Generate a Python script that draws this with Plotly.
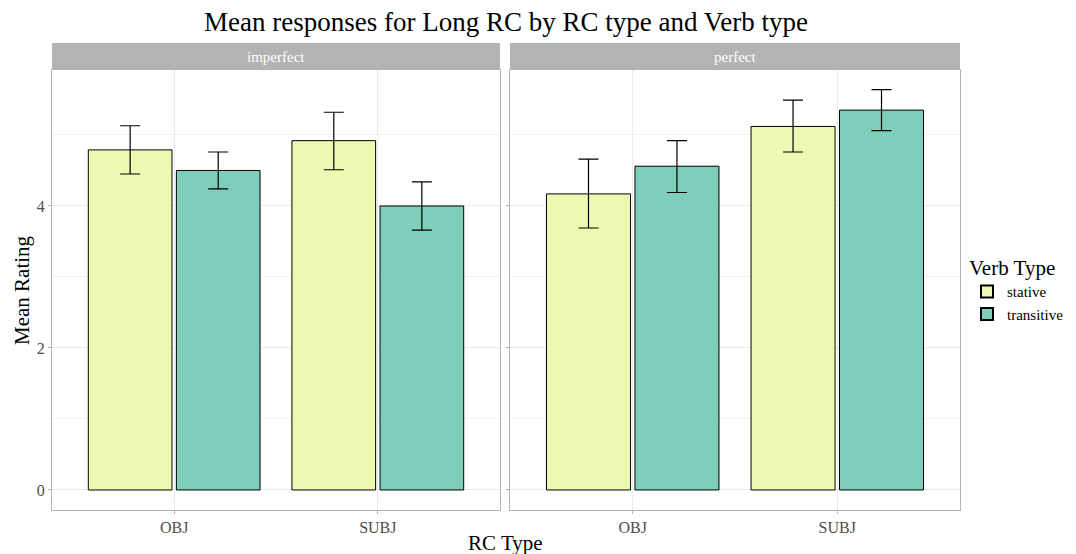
import plotly.graph_objects as go

rc_types = ["OBJ", "SUBJ"]
aspects = ["imperfect", "perfect"]
verb_types = ["stative", "transitive"]

# means[aspect][verb] over rc_types
means = {
    "imperfect": {"stative": [4.79, 4.92], "transitive": [4.50, 4.00]},
    "perfect": {"stative": [4.17, 5.12], "transitive": [4.56, 5.35]},
}
err_hi = {
    "imperfect": {"stative": [5.13, 5.32], "transitive": [4.76, 4.34]},
    "perfect": {"stative": [4.66, 5.49], "transitive": [4.92, 5.64]},
}
err_lo = {
    "imperfect": {"stative": [4.45, 4.51], "transitive": [4.24, 3.66]},
    "perfect": {"stative": [3.69, 4.76], "transitive": [4.19, 5.06]},
}
colors = {"stative": "#EDF8B1", "transitive": "#7FCDBB"}

W, H = 1076, 554
FONT = "Liberation Serif"

def px_x(p):
    return p / W

def px_y(p):
    return 1 - p / H

fig = go.Figure()
axes = [("x", "y"), ("x2", "y2")]
for ai, asp in enumerate(aspects):
    xa, ya = axes[ai]
    for vt in verb_types:
        m = means[asp][vt]
        hi = [h - v for h, v in zip(err_hi[asp][vt], m)]
        lo = [v - l for l, v in zip(err_lo[asp][vt], m)]
        fig.add_trace(go.Bar(
            x=rc_types, y=m, name=vt, legendgroup=vt,
            showlegend=(ai == 0),
            marker=dict(color=colors[vt], line=dict(color="black", width=1)),
            error_y=dict(type="data", array=hi, arrayminus=lo,
                         color="black", thickness=1.2, width=10),
            xaxis=xa, yaxis=ya,
        ))

grid = "#EBEBEB"
border = "#B3B3B3"
tickfont = dict(family=FONT, size=16, color="#4D4D4D")
yrange = [-0.282, 5.915]

common_x = dict(type="category", range=[-0.6, 1.6], showgrid=True, gridcolor=grid,
                gridwidth=1, showline=True, mirror=True, linecolor=border, linewidth=1,
                ticks="outside", ticklen=3, tickcolor=border, tickfont=tickfont,
                zeroline=False)
common_y = dict(range=yrange, tickvals=[0, 2, 4], showgrid=True, gridcolor=grid,
                gridwidth=1, showline=True, mirror=True, linecolor=border, linewidth=1,
                ticks="outside", ticklen=3, tickcolor=border, tickfont=tickfont,
                zeroline=False,
                minor=dict(tickvals=[1, 3, 5], showgrid=True, gridcolor="#F2F2F2",
                           gridwidth=0.6, ticks=""))

p1 = (52, 500)
p2 = (510, 960)
ytop, ybot = 70, 510
fig.update_layout(
    xaxis=dict(domain=[px_x(p1[0]), px_x(p1[1])], anchor="y", **common_x),
    xaxis2=dict(domain=[px_x(p2[0]), px_x(p2[1])], anchor="y2", **common_x),
    yaxis=dict(domain=[px_y(ybot), px_y(ytop)], anchor="x", **common_y),
    yaxis2=dict(domain=[px_y(ybot), px_y(ytop)], anchor="x2", showticklabels=False,
                matches="y", **common_y),
)

fig.update_layout(
    width=W, height=H,
    margin=dict(l=0, r=0, t=0, b=0),
    paper_bgcolor="white", plot_bgcolor="white",
    barmode="group", bargap=0.135, bargroupgap=0.05,
    font=dict(family=FONT, color="black"),
    title=dict(text="Mean responses for Long RC by RC type and Verb type",
               x=px_x(506), xanchor="center", y=px_y(22), yanchor="middle",
               font=dict(family=FONT, size=27, color="black")),
    legend=dict(title=dict(text="Verb Type", font=dict(family=FONT, size=21)),
                font=dict(family=FONT, size=15), x=px_x(967), xanchor="left",
                y=px_y(248), yanchor="top", tracegroupgap=0, itemsizing="constant"),
    showlegend=True,
)

# strips
for (x0, x1), asp in zip([p1, p2], aspects):
    fig.add_shape(type="rect", xref="paper", yref="paper",
                  x0=px_x(x0), x1=px_x(x1), y0=px_y(ytop), y1=px_y(43),
                  fillcolor="#B3B3B3", line=dict(width=0), layer="below")
    fig.add_annotation(text=asp, xref="paper", yref="paper",
                       x=px_x((x0 + x1) / 2), y=px_y(57), showarrow=False,
                       xanchor="center", yanchor="middle",
                       font=dict(family=FONT, size=15, color="white"))

fig.add_annotation(text="Mean Rating", xref="paper", yref="paper", x=px_x(22),
                   y=px_y(290), textangle=-90, showarrow=False,
                   xanchor="center", yanchor="middle",
                   font=dict(family=FONT, size=21, color="black"))
fig.add_annotation(text="RC Type", xref="paper", yref="paper", x=px_x(505),
                   y=px_y(543), showarrow=False, xanchor="center", yanchor="middle",
                   font=dict(family=FONT, size=21, color="black"))

fig.write_html("out.html", config={"displayModeBar": False},
               post_script="document.body.style.margin='0';document.body.style.overflow='hidden';")
